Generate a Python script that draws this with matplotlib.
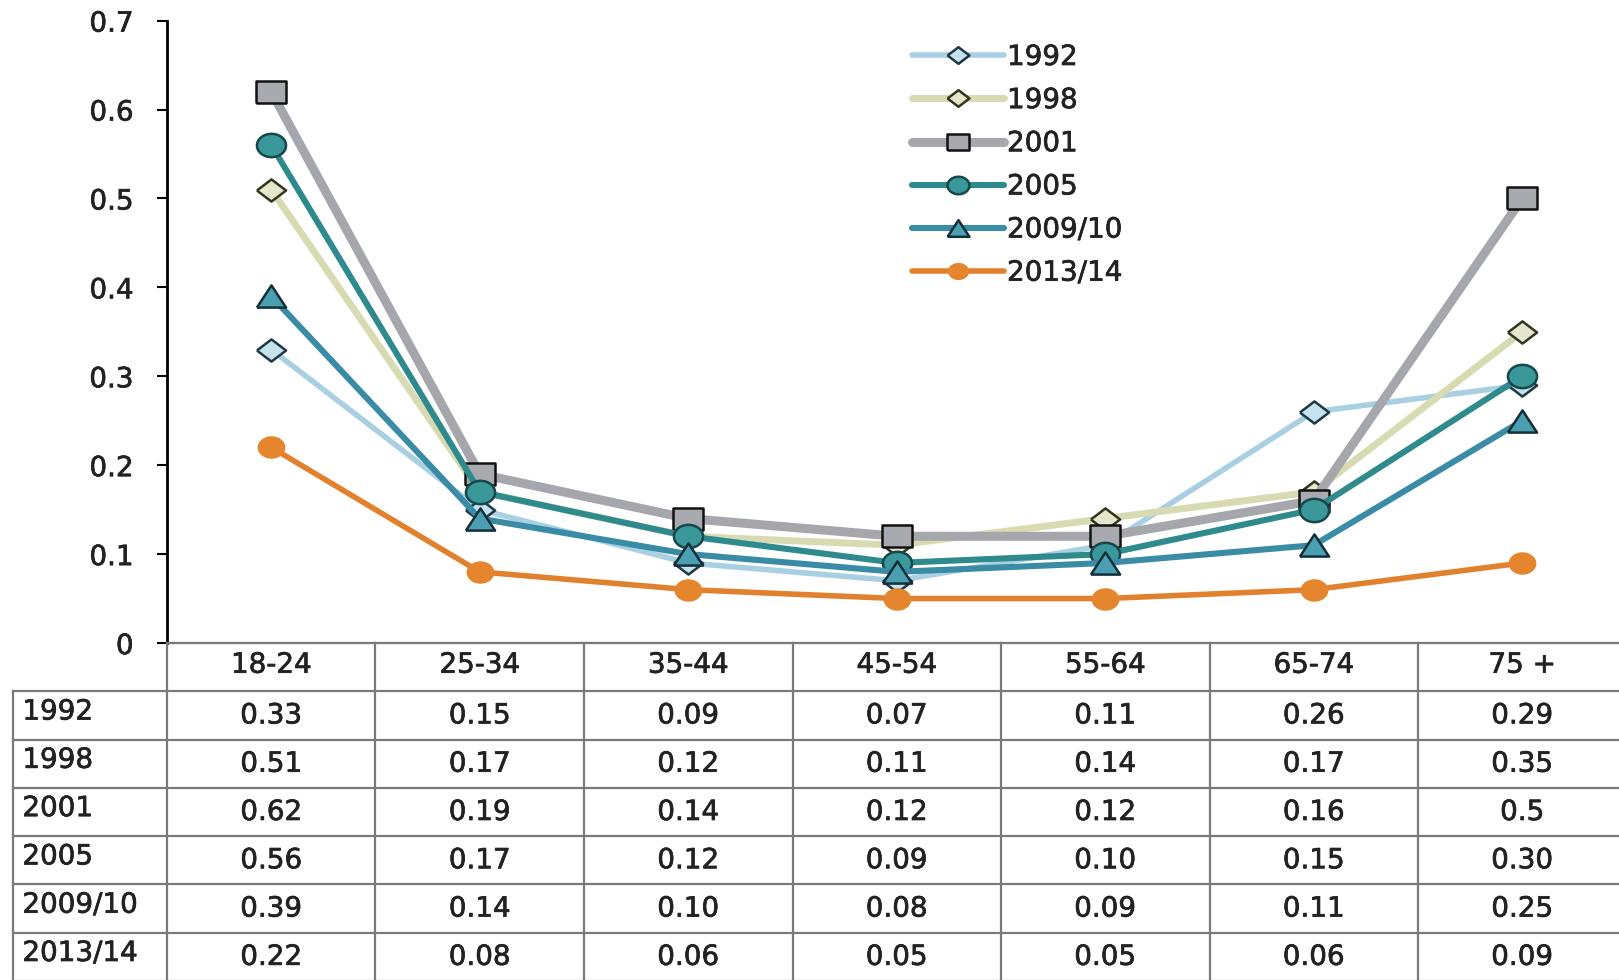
import matplotlib
matplotlib.use("Agg")
import numpy as np
import matplotlib.pyplot as plt
import matplotlib.patheffects as pe

# ---- data -------------------------------------------------------------
age_groups = ["18-24", "25-34", "35-44", "45-54", "55-64", "65-74", "75 +"]
series_names = ["1992", "1998", "2001", "2005", "2009/10", "2013/14"]

rate_1992 = [0.33, 0.15, 0.09, 0.07, 0.11, 0.26, 0.29]
rate_1998 = [0.51, 0.17, 0.12, 0.11, 0.14, 0.17, 0.35]
rate_2001 = [0.62, 0.19, 0.14, 0.12, 0.12, 0.16, 0.5]
rate_2005 = [0.56, 0.17, 0.12, 0.09, 0.10, 0.15, 0.30]
rate_2009 = [0.39, 0.14, 0.10, 0.08, 0.09, 0.11, 0.25]
rate_2013 = [0.22, 0.08, 0.06, 0.05, 0.05, 0.06, 0.09]

# text shown in the data table (keeps the original formatting)
table_text = [
    ["0.33", "0.15", "0.09", "0.07", "0.11", "0.26", "0.29"],
    ["0.51", "0.17", "0.12", "0.11", "0.14", "0.17", "0.35"],
    ["0.62", "0.19", "0.14", "0.12", "0.12", "0.16", "0.5"],
    ["0.56", "0.17", "0.12", "0.09", "0.10", "0.15", "0.30"],
    ["0.39", "0.14", "0.10", "0.08", "0.09", "0.11", "0.25"],
    ["0.22", "0.08", "0.06", "0.05", "0.05", "0.06", "0.09"],
]

y_ticks = [0, 0.1, 0.2, 0.3, 0.4, 0.5, 0.6, 0.7]
y_tick_labels = ["0", "0.1", "0.2", "0.3", "0.4", "0.5", "0.6", "0.7"]

# ---- marker shapes (slightly wide, as in the original chart) ------------
ASPECT = 0.76
diamond = [(-1, 0), (0, ASPECT), (1, 0), (0, -ASPECT), (-1, 0)]
square = [(-1, -ASPECT), (1, -ASPECT), (1, ASPECT), (-1, ASPECT), (-1, -ASPECT)]
triangle = [(-1, -ASPECT), (1, -ASPECT), (0, ASPECT), (-1, -ASPECT)]
_t = np.linspace(0, 2 * np.pi, 41)
ellipse = list(zip(np.cos(_t), 0.8 * np.sin(_t)))

styles = [
    dict(color="#a8cfe2", lw=4.0, marker=diamond, ms=21, mfc="#c6e2ee", mec="#1e3846", mew=1.8),
    dict(color="#d8dbb2", lw=5.0, marker=diamond, ms=21, mfc="#e4e7cb", mec="#34341f", mew=1.8),
    dict(color="#a6a7ac", lw=6.5, marker=square, ms=21, mfc="#a9aaaf", mec="#111111", mew=1.8),
    dict(color="#2f8a8e", lw=4.4, marker=ellipse, ms=21, mfc="#3a989b", mec="#16474b", mew=1.8),
    dict(color="#3a8ca6", lw=4.4, marker=triangle, ms=21, mfc="#4a9fb3", mec="#142f38", mew=1.8),
    dict(color="#e1802d", lw=4.0, marker=ellipse, ms=19, mfc="#e5862f", mec="#e5862f", mew=1.0),
]
all_rates = [rate_1992, rate_1998, rate_2001, rate_2005, rate_2009, rate_2013]

FONT = "DejaVu Sans"
FS = 20
TEXT_COLOR = "#222222"
GRID_COLOR = "#7a7a7a"
heavy = [pe.withStroke(linewidth=0.5, foreground=TEXT_COLOR)]

W, H = 1619, 980
fig = plt.figure(figsize=(W / 100, H / 100), dpi=100)
fig.patch.set_facecolor("white")

x_left, x_right = 167, 1626.5
y_top, y_zero = 20.6, 643
ax = fig.add_axes([x_left / W, 1 - y_zero / H, (x_right - x_left) / W, (y_zero - y_top) / H])
ax.set_xlim(-0.5, 6.5)
ax.set_ylim(0, 0.7)

xs = list(range(len(age_groups)))
for name, vals, st in zip(series_names, all_rates, styles):
    ax.plot(xs, vals, label=name, solid_capstyle="round", solid_joinstyle="round",
            clip_on=False, **st)

for side in ("top", "right"):
    ax.spines[side].set_visible(False)
ax.spines["left"].set_linewidth(2.0)
ax.spines["left"].set_color("black")
ax.spines["bottom"].set_color(GRID_COLOR)
ax.spines["bottom"].set_linewidth(1.5)
ax.set_xticks([])
ax.set_yticks(y_ticks)
ax.set_yticklabels(y_tick_labels, fontsize=FS, family=FONT, color=TEXT_COLOR)
for lab in ax.get_yticklabels():
    lab.set_path_effects(heavy)
ax.tick_params(axis="y", length=7, width=1.5, pad=17, color="black")

leg = ax.legend(loc="upper left", bbox_to_anchor=(912 / W, 1 - 43 / H),
                bbox_transform=fig.transFigure, frameon=False,
                handlelength=3.32, handletextpad=0.1, labelspacing=0.545,
                borderpad=0, borderaxespad=0, markerscale=0.75,
                prop={"family": FONT, "size": FS})
for t in leg.get_texts():
    t.set_color(TEXT_COLOR)
    t.set_path_effects(heavy)

# ---- data table under the chart ---------------------------------------
label_left = 13
col_w = (x_right - x_left) / 7
tax = fig.add_axes([label_left / W, 1 - 981 / H, (x_right - label_left) / W, (981 - y_zero) / H])
x0 = -0.5 - (x_left - label_left) / col_w
tax.set_xlim(x0, 6.5)
tax.set_ylim(7, 0)
tax.axis("off")

lw_grid = 1.6
tax.plot([-0.5, 6.5], [0, 0], color=GRID_COLOR, lw=lw_grid, clip_on=False)
for r in range(1, 8):
    tax.plot([x0, 6.5], [r, r], color=GRID_COLOR, lw=lw_grid, clip_on=False)
for c in range(8):
    tax.plot([c - 0.5, c - 0.5], [0, 7], color=GRID_COLOR, lw=lw_grid, clip_on=False)
tax.plot([x0, x0], [1, 7], color=GRID_COLOR, lw=lw_grid, clip_on=False)

for c, lab in enumerate(age_groups):
    tax.text(c, 0.45, lab, ha="center", va="center", fontsize=FS, family=FONT,
             color=TEXT_COLOR, path_effects=heavy)
for r, name in enumerate(series_names):
    tax.text(x0 + 0.045, r + 1.42, name, ha="left", va="center", fontsize=FS,
             family=FONT, color=TEXT_COLOR, path_effects=heavy)
    for c, txt in enumerate(table_text[r]):
        tax.text(c, r + 1.5, txt, ha="center", va="center", fontsize=FS,
                 family=FONT, color=TEXT_COLOR, path_effects=heavy)

fig.savefig("out.png", dpi=100, facecolor="white")
